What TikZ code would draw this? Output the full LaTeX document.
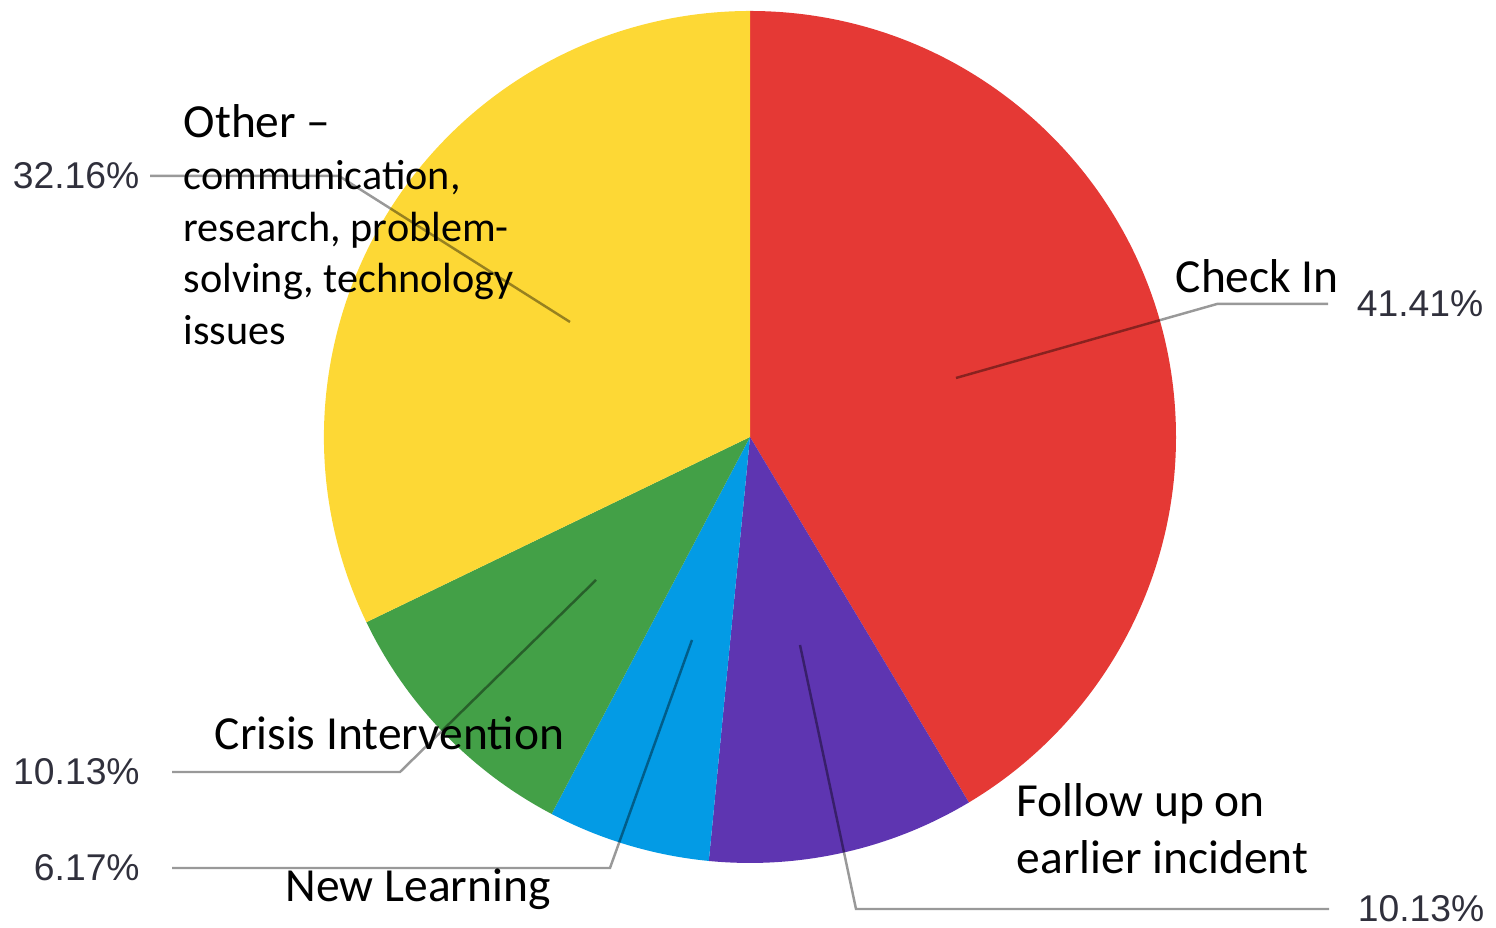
\documentclass[tikz,border=0pt]{standalone}
\usepackage{fontspec}
\setmainfont{Carlito}
\newfontfamily\pctfont{Liberation Sans}
\usetikzlibrary{positioning}
\definecolor{checkin}{RGB}{229,57,53}
\definecolor{followup}{RGB}{94,53,177}
\definecolor{newlearn}{RGB}{3,155,229}
\definecolor{crisis}{RGB}{67,160,71}
\definecolor{other}{RGB}{253,216,53}
\definecolor{pcttext}{RGB}{48,48,60}
\tikzset{
  catlabel/.style = {font=\fontsize{13.5}{14.5}\selectfont, inner sep=0pt, align=left},
  pct/.style = {font=\pctfont\fontsize{10.6}{12}\selectfont, text=pcttext, inner ysep=0pt},
  leader/.style = {draw=black, draw opacity=0.4, line width=0.7pt},
}

\begin{document}
\begin{tikzpicture}[x=0.01cm, y=0.01cm]
\useasboundingbox (0,0) rectangle (1496,928);
\coordinate (o) at (750,491);
% slices, clockwise from the top
\fill [checkin]  (o) -- ++(90:426) arc [start angle=90, end angle=-59.08, radius=426] -- cycle;
\fill [followup] (o) -- ++(-59.08:426) arc [start angle=-59.08, end angle=-95.55, radius=426] -- cycle;
\fill [newlearn] (o) -- ++(-95.55:426) arc [start angle=-95.55, end angle=-117.76, radius=426] -- cycle;
\fill [crisis]   (o) -- ++(-117.76:426) arc [start angle=-117.76, end angle=-154.23, radius=426] -- cycle;
\fill [other]    (o) -- ++(-154.23:426) arc [start angle=-154.23, end angle=-270, radius=426] -- cycle;

% percentages
\node (pchk) [pct, anchor=west, inner xsep=8pt] at (1328,624) {41.41\%};
\node (pfol) [pct, anchor=west, inner xsep=8pt] at (1329,19) {10.13\%};
\node (poth) [pct, anchor=east, inner xsep=2.85pt] at (150,752) {32.16\%};
\node (pcri) [pct, anchor=east, inner xsep=9pt] at (172,156) {10.13\%};
\node (pnew) [pct, anchor=east, inner xsep=9pt] at (172,60) {6.17\%};

% leader lines
\coordinate (ichk) at (956,550);
\coordinate (bchk) at (1217,624);
\coordinate (ioth) at (570,606);
\coordinate (both) at (339,752);
\coordinate (icri) at (596,348);
\coordinate (bcri) at (400,156);
\coordinate (inew) at (692,288);
\coordinate (bnew) at (610,60);
\coordinate (ifol) at (800,283);
\coordinate (bfol) at (856,19);
\draw [leader] (ichk) -- (bchk) -- (pchk.west);
\draw [leader] (ioth) -- (both) -- (poth.east);
\draw [leader] (icri) -- (bcri) -- (pcri.east);
\draw [leader] (inew) -- (bnew) -- (pnew.east);
\draw [leader] (ifol) -- (bfol) -- (pfol.west);

% category names
\node (lchk) [catlabel, anchor=base west] at (1175,635) {Check In};
\node (loth) [catlabel, anchor=north west, font=\fontsize{12}{14.7}\selectfont] at (183,824)
  {{\fontsize{13.5}{14.7}\selectfont Other --}\\communication,\\research, problem-\\solving, technology\\issues};
\node (lcri) [catlabel, anchor=base west] at (214,178) {Crisis Intervention};
\node (lnew) [catlabel, anchor=base west] at (285,26) {New Learning};
\node (lfol) [catlabel, anchor=north west, font=\fontsize{13.5}{16.2}\selectfont] at (1016,145)
  {Follow up on\\earlier incident};
\end{tikzpicture}
\end{document}
